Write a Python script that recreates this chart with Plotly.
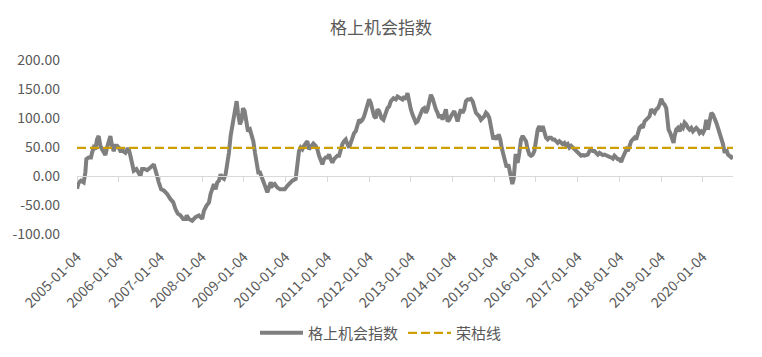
import pandas as pd
import plotly.graph_objects as go

title_text = "格上机会指数"
series_name = "格上机会指数"
threshold_name = "荣枯线"
threshold_value = 48.5

tick_years = list(range(2005, 2021))
tick_labels = [f"{y}-01-04" for y in tick_years]
y_ticks = [-100, -50, 0, 50, 100, 150, 200]
y_tick_labels = [f"{v:.2f}" for v in y_ticks]

# positions along the time axis, in decimal years
decimal_years = [
    2005.000, 2005.024, 2005.040, 2005.096, 2005.160, 2005.200, 2005.224, 2005.280, 2005.336, 2005.360,
    2005.400, 2005.440, 2005.480, 2005.520, 2005.560, 2005.600, 2005.640, 2005.680, 2005.720, 2005.760,
    2005.800, 2005.840, 2005.880, 2005.920, 2005.960, 2006.000, 2006.040, 2006.104, 2006.160, 2006.200,
    2006.240, 2006.280, 2006.320, 2006.360, 2006.424, 2006.480, 2006.520, 2006.560, 2006.616, 2006.680,
    2006.744, 2006.800, 2006.840, 2006.880, 2006.920, 2006.960, 2007.016, 2007.080, 2007.160, 2007.240,
    2007.304, 2007.360, 2007.416, 2007.480, 2007.544, 2007.608,
    2007.625, 2007.681, 2007.761, 2007.841, 2007.921, 2008.001, 2008.041, 2008.105, 2008.161, 2008.201,
    2008.241, 2008.281, 2008.321, 2008.361, 2008.401, 2008.441, 2008.481, 2008.521, 2008.561, 2008.601,
    2008.641, 2008.681, 2008.721, 2008.761, 2008.801, 2008.825, 2008.857, 2008.905, 2008.945, 2008.977,
    2009.017, 2009.057, 2009.097, 2009.145, 2009.185, 2009.225, 2009.265, 2009.305, 2009.345, 2009.385,
    2009.441, 2009.481, 2009.521, 2009.561, 2009.601, 2009.641, 2009.681, 2009.737, 2009.801, 2009.865,
    2009.921, 2009.977, 2010.041, 2010.105, 2010.161,
    2010.240, 2010.280, 2010.320, 2010.360, 2010.400, 2010.440, 2010.480, 2010.520, 2010.560, 2010.616,
    2010.664, 2010.720, 2010.760, 2010.800, 2010.840, 2010.880, 2010.920, 2010.960, 2011.000, 2011.040,
    2011.080, 2011.120, 2011.160, 2011.200, 2011.240, 2011.280, 2011.320, 2011.360, 2011.400, 2011.440,
    2011.480, 2011.520, 2011.560, 2011.600, 2011.640, 2011.680, 2011.720, 2011.760, 2011.800, 2011.840,
    2011.880, 2011.920, 2011.960, 2012.000, 2012.040, 2012.080, 2012.120, 2012.160, 2012.200, 2012.240,
    2012.296, 2012.344, 2012.384, 2012.440, 2012.480, 2012.520, 2012.584, 2012.640, 2012.680, 2012.744,
    2012.800, 2012.840,
    2012.880, 2012.920, 2012.960, 2013.000, 2013.040, 2013.080, 2013.120, 2013.160, 2013.200, 2013.240,
    2013.280, 2013.320, 2013.360, 2013.400, 2013.440, 2013.480, 2013.520, 2013.560, 2013.600, 2013.640,
    2013.680, 2013.720, 2013.760, 2013.800, 2013.840, 2013.880, 2013.920, 2013.960, 2014.000, 2014.040,
    2014.080, 2014.120, 2014.160, 2014.200, 2014.240, 2014.280, 2014.320, 2014.360, 2014.400, 2014.440,
    2014.480, 2014.520, 2014.560, 2014.600, 2014.640, 2014.680, 2014.720, 2014.760, 2014.800, 2014.840,
    2014.880, 2014.904, 2014.936, 2014.976, 2015.016, 2015.064, 2015.104, 2015.144, 2015.176, 2015.216,
    2015.256, 2015.296, 2015.336, 2015.368, 2015.400, 2015.432, 2015.464, 2015.496, 2015.512, 2015.540,
    2015.560,
    2015.600, 2015.640, 2015.680, 2015.720, 2015.760, 2015.800, 2015.840, 2015.880, 2015.920, 2015.960,
    2016.000, 2016.040, 2016.080, 2016.120, 2016.160, 2016.200, 2016.240, 2016.280, 2016.320, 2016.360,
    2016.400, 2016.440, 2016.480, 2016.520, 2016.560, 2016.600, 2016.640, 2016.680, 2016.720, 2016.760,
    2016.800, 2016.840, 2016.880, 2016.920, 2016.960, 2017.000, 2017.040, 2017.080, 2017.120, 2017.160,
    2017.200, 2017.240, 2017.280, 2017.320, 2017.360, 2017.400, 2017.440, 2017.480, 2017.520, 2017.560,
    2017.600, 2017.640, 2017.680, 2017.720, 2017.760, 2017.800, 2017.840, 2017.880, 2017.920, 2017.960,
    2018.000, 2018.040, 2018.080, 2018.120, 2018.168,
    2018.200, 2018.240, 2018.280, 2018.320, 2018.360, 2018.400, 2018.440, 2018.480, 2018.520, 2018.560,
    2018.600, 2018.640, 2018.680, 2018.720, 2018.760, 2018.800, 2018.840, 2018.880, 2018.920, 2018.960,
    2019.000, 2019.040, 2019.080, 2019.120, 2019.144, 2019.176, 2019.216, 2019.256, 2019.296, 2019.320,
    2019.360, 2019.400, 2019.440, 2019.480, 2019.520, 2019.560, 2019.600, 2019.640, 2019.680, 2019.720,
    2019.760, 2019.800, 2019.840, 2019.880, 2019.920, 2019.960, 2020.000, 2020.040, 2020.080, 2020.120,
    2020.160, 2020.200, 2020.240, 2020.280, 2020.320, 2020.360, 2020.400, 2020.440, 2020.480, 2020.520,
    2020.560, 2020.600, 2020.640, 2020.680, 2020.720,
]

index_values = [
    -22, -12, -11, -8, -11, 6, 29, 32, 32, 40,
    49, 46, 63, 69, 52, 46, 40, 36, 49, 57,
    69, 52, 43, 52, 52, 49, 43, 43, 40, 46,
    46, 35, 17, 9, 12, 3, 0, 12, 12, 10,
    13, 17, 20, 12, 0, -11, -23, -25, -31, -40,
    -45, -57, -65, -68, -74, -74,
    -68, -74, -77, -71, -68, -74, -60, -51, -46, -31,
    -23, -14, -23, -11, -8, 3, -3, -5, 3, 20,
    40, 69, 89, 106, 123, 129, 109, 89, 97, 117,
    112, 94, 77, 80, 69, 60, 40, 23, 6, 6,
    -3, -11, -20, -28, -17, -11, -17, -14, -20, -23,
    -23, -23, -17, -11, -8,
    -5, 17, 43, 49, 46, 52, 57, 60, 46, 52,
    56, 52, 46, 35, 26, 20, 29, 32, 32, 37,
    29, 23, 29, 32, 35, 35, 49, 55, 60, 63,
    55, 49, 57, 66, 74, 77, 86, 97, 94, 97,
    103, 115, 126, 132, 126, 115, 103, 100, 115, 112,
    100, 97, 106, 117, 120, 129, 134, 132, 137, 134,
    132, 137,
    132, 143, 123, 115, 106, 97, 92, 94, 100, 106,
    115, 117, 109, 115, 126, 140, 134, 123, 115, 109,
    100, 106, 97, 106, 115, 94, 97, 103, 109, 112,
    103, 94, 106, 115, 109, 115, 129, 132, 132, 133,
    129, 120, 109, 106, 103, 97, 100, 103, 109, 106,
    100, 89, 74, 63, 69, 63, 72, 63, 49, 35,
    23, 15, 20, 6, -3, -14, -5, 23, 38, 25,
    23,
    40, 63, 69, 63, 60, 46, 37, 35, 37, 43,
    63, 80, 86, 77, 86, 77, 66, 63, 66, 66,
    63, 63, 60, 57, 60, 57, 55, 57, 52, 55,
    49, 52, 49, 46, 43, 40, 37, 35, 36, 35,
    36, 37, 43, 46, 43, 43, 40, 37, 40, 37,
    36, 37, 35, 35, 33, 32, 30, 35, 32, 29,
    29, 24, 32, 40, 46,
    43, 52, 60, 63, 66, 63, 72, 83, 86, 83,
    94, 97, 100, 103, 115, 112, 109, 115, 117, 123,
    133, 126, 123, 117, 97, 80, 74, 66, 57, 69,
    80, 83, 77, 86, 83, 92, 89, 83, 80, 83,
    77, 80, 83, 80, 74, 77, 74, 80, 97, 80,
    92, 109, 106, 100, 92, 83, 74, 66, 55, 40,
    46, 37, 35, 32, 35,
]

start_date = pd.Timestamp("2005-01-04")
dates = [start_date + pd.Timedelta(days=(t - 2005.0) * 365.25) for t in decimal_years]
tick_dates = [pd.Timestamp(s) for s in tick_labels]

label_color = "#595959"
font_family = "Noto Sans CJK SC, Noto Sans, sans-serif"

fig = go.Figure()
fig.add_trace(go.Scatter(
    x=dates, y=index_values, mode="lines", name=series_name,
    line=dict(color="#7F7F7F", width=4),
))
fig.add_trace(go.Scatter(
    x=[dates[0], dates[-1]], y=[threshold_value, threshold_value],
    mode="lines", name=threshold_name, xaxis="x2",
    line=dict(color="#CF9F00", width=2.25, dash="9px,4px"),
))

fig.update_layout(
    width=762, height=357,
    margin=dict(l=77, r=29, t=60, b=123, autoexpand=False),
    paper_bgcolor="white", plot_bgcolor="white",
    font=dict(family=font_family, color=label_color, size=13),
    title=dict(text=title_text, x=0.5, xanchor="center", y=1 - 28 / 357, yanchor="middle",
               font=dict(size=17, color=label_color)),
    showlegend=True,
    legend=dict(orientation="h", xref="container", yref="container", x=0.5, xanchor="center",
                y=(357 - 333) / 357, yanchor="middle", itemwidth=43,
                font=dict(size=15, color=label_color)),
    xaxis=dict(
        type="date", range=[dates[0], dates[-1]], automargin=False,
        tickmode="array", tickvals=tick_dates, ticktext=tick_labels, tickangle=-45,
        showgrid=False, zeroline=False, showline=False, ticks="",
        tickfont=dict(size=14, color=label_color), ticklabelstandoff=11,
    ),
    xaxis2=dict(
        type="date", overlaying="x", matches="x", anchor="free", position=1 / 3,
        automargin=False,
        tickmode="array", tickvals=tick_dates, showticklabels=False,
        showgrid=False, zeroline=False, showline=True, linecolor="#D9D9D9", linewidth=1,
        ticks="outside", ticklen=5, tickcolor="#D9D9D9", tickwidth=1,
    ),
    yaxis=dict(
        range=[-100, 200], tickmode="array", tickvals=y_ticks, ticktext=y_tick_labels,
        automargin=False,
        showgrid=False, zeroline=False, showline=False, ticks="",
        tickfont=dict(size=14, color=label_color), ticklabelstandoff=16,
    ),
)

fig.write_html(
    "out.html",
    config={"displayModeBar": False},
    post_script="document.body.style.margin='0';document.body.style.padding='0';",
)
